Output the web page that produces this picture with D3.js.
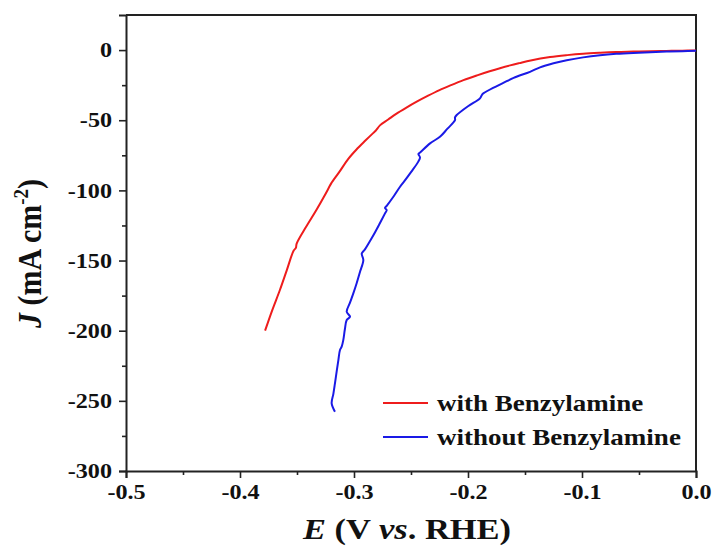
<!DOCTYPE html>
<html>
<head>
<meta charset="utf-8">
<script src="https://cdn.jsdelivr.net/npm/d3@7"></script>
<style>
  body { margin: 0; background: #fff; }
  svg text { font-family: "Liberation Serif", "Times New Roman", serif; font-weight: bold; fill: #111; }
</style>
</head>
<body>
<div class="chart"></div>
<script>
// LSV curves (E in V vs RHE, J in mA cm-2)
var redE = [-0.378, -0.372, -0.365, -0.359, -0.353, -0.351, -0.3503, -0.342, -0.333, -0.326, -0.322, -0.320, -0.313, -0.305, -0.298, -0.290, -0.283, -0.281, -0.277, -0.270, -0.263, -0.254, -0.245, -0.235, -0.225, -0.215, -0.204, -0.192, -0.181, -0.172, -0.163, -0.155, -0.145, -0.128, -0.113, -0.099, -0.084, -0.070, -0.055, -0.040, -0.026, -0.012, 0.000];
var redJ = [-200, -186, -171, -157, -143, -141, -138, -126, -114, -104, -98, -95, -87, -77.5, -71, -64.5, -59, -57.5, -53.5, -49.5, -45.5, -41, -36.8, -32.5, -28.5, -25, -21.4, -18, -15.1, -12.9, -10.9, -9.3, -7.4, -5.0, -3.6, -2.6, -1.9, -1.4, -1.1, -0.8, -0.6, -0.4, -0.3];

var blueE = [-0.3167, -0.3196, -0.3181, -0.3167, -0.3150, -0.3137, -0.3123, -0.3108, -0.3094, -0.3080, -0.3064, -0.3035, -0.3064, -0.3035, -0.3006, -0.2976, -0.2947, -0.2918, -0.2932, -0.2904, -0.2870, -0.2830, -0.2780, -0.2728, -0.2713, -0.2728, -0.2713, -0.2650, -0.2596, -0.2568, -0.2500, -0.2436, -0.2421, -0.2435, -0.2420, -0.2333, -0.2246, -0.2180, -0.2114, -0.2114, -0.2099, -0.2000, -0.1895, -0.1875, -0.1866, -0.1780, -0.1690, -0.1600, -0.1456, -0.1368, -0.1250, -0.1134, -0.0990, -0.0842, -0.0700, -0.0550, -0.0400, -0.0257, -0.0120, 0.0000];
var blueJ = [-257.7, -251.8, -245, -237.5, -228, -221, -213.8, -211.4, -206.7, -199, -192.4, -190, -186.5, -180, -173.4, -166, -158, -149.6, -145, -142, -137.5, -132, -124.5, -116.4, -114, -112.5, -111, -104, -97.4, -94.5, -87, -79.5, -76.5, -74, -73, -66.5, -61.8, -56, -50, -48, -46.3, -40, -34.4, -31.5, -30.9, -27, -23.4, -19.8, -15.5, -12.3, -9.4, -7.2, -5.2, -3.7, -2.7, -2.0, -1.5, -1.1, -0.8, -0.5];

var xTicks = [-0.5, -0.4, -0.3, -0.2, -0.1, 0.0];
var yTicks = [0, -50, -100, -150, -200, -250, -300];
var seriesNames = ["with Benzylamine", "without Benzylamine"];
var seriesColors = ["#ee1c1c", "#1a1ae6"];

var stretch = 1.15; // the original figure is a bit wider than tall

var margin = {top: 15, right: 20, bottom: 78, left: 126},
    width = 716 - margin.left - margin.right,
    height = 549 - margin.top - margin.bottom;

var svg = d3.select(".chart").append("svg")
    .attr("width", 716)
    .attr("height", 549)
  .append("g")
    .attr("transform", "translate(" + margin.left + "," + margin.top + ")");

var x = d3.scaleLinear().domain([-0.5, 0]).range([0, width]);
var y = d3.scaleLinear().domain([-300, 25]).range([height, 0]);

// minor ticks
svg.append("g")
    .attr("transform", "translate(0," + height + ")")
    .call(d3.axisBottom(x).tickValues(d3.range(-0.45, 0, 0.1)).tickSize(4).tickFormat(""))
    .call(function(g){ g.select(".domain").remove(); });
svg.append("g")
    .call(d3.axisLeft(y).tickValues(d3.range(-275, 25, 50)).tickSize(4).tickFormat(""))
    .call(function(g){ g.select(".domain").remove(); });

var xAxis = svg.append("g")
    .attr("class", "x axis")
    .attr("transform", "translate(0," + height + ")")
    .call(d3.axisBottom(x).tickValues(xTicks).tickSize(7).tickPadding(6)
      .tickFormat(function(d){ return d.toFixed(1); }));
xAxis.selectAll("text")
    .style("font-size", "21px")
    .attr("dy", "0.72em")
    .attr("transform", "scale(" + stretch + ",1)");

var yAxis = svg.append("g")
    .attr("class", "y axis")
    .call(d3.axisLeft(y).tickValues(yTicks).tickSize(7).tickPadding(6)
      .tickFormat(function(d){ return String(d); }));
yAxis.selectAll("text")
    .style("font-size", "21px")
    .attr("x", -14 / stretch)
    .attr("transform", "scale(" + stretch + ",1)");

svg.selectAll(".domain").attr("stroke", "#222").attr("stroke-width", 2);
svg.selectAll(".tick line").attr("stroke", "#222").attr("stroke-width", 1.6);

// top and right frame
svg.append("path")
    .attr("d", "M0,0H" + width + "V" + height)
    .attr("fill", "none")
    .attr("stroke", "#222")
    .attr("stroke-width", 2);

var line = d3.line()
    .curve(d3.curveCatmullRom.alpha(0.5))
    .x(function(d){ return x(d[0]); })
    .y(function(d){ return y(d[1]); });

var series = [d3.zip(redE, redJ), d3.zip(blueE, blueJ)];

svg.selectAll(".curve")
    .data(series)
    .enter().append("path")
    .attr("class", "curve")
    .attr("d", line)
    .attr("fill", "none")
    .attr("stroke", function(d, i){ return seriesColors[i]; })
    .attr("stroke-width", 2)
    .attr("stroke-linejoin", "round");

// legend
var legend = svg.selectAll(".legend")
    .data(seriesNames)
    .enter().append("g")
    .attr("class", "legend")
    .attr("transform", function(d, i){ return "translate(257," + (388 + i * 34) + ")"; });

legend.append("line")
    .attr("x1", 0).attr("x2", 45)
    .attr("stroke", function(d, i){ return seriesColors[i]; })
    .attr("stroke-width", 2);

legend.append("text")
    .attr("transform", "translate(54,0) scale(" + stretch + ",1)")
    .attr("dy", "0.35em")
    .style("font-size", "23.5px")
    .text(function(d){ return d; });

// axis titles
var xt = svg.append("text")
    .attr("text-anchor", "middle")
    .attr("transform", "translate(" + (width / 2 - 4) + "," + (height + 68) + ") scale(" + stretch + ",1)")
    .style("font-size", "30px");
xt.append("tspan").style("font-style", "italic").text("E");
xt.append("tspan").text(" (V ");
xt.append("tspan").style("font-style", "italic").text("vs");
xt.append("tspan").text(". RHE)");

var yt = svg.append("text")
    .attr("text-anchor", "middle")
    .attr("transform", "translate(-85," + y(-145) + ") scale(" + stretch + ",1) rotate(-90)")
    .style("font-size", "30px");
yt.append("tspan").style("font-style", "italic").text("J");
yt.append("tspan").text(" (mA cm");
yt.append("tspan").attr("dy", "-11").style("font-size", "19px").text("-2");
yt.append("tspan").attr("dy", "11").text(")");
</script>
</body>
</html>
